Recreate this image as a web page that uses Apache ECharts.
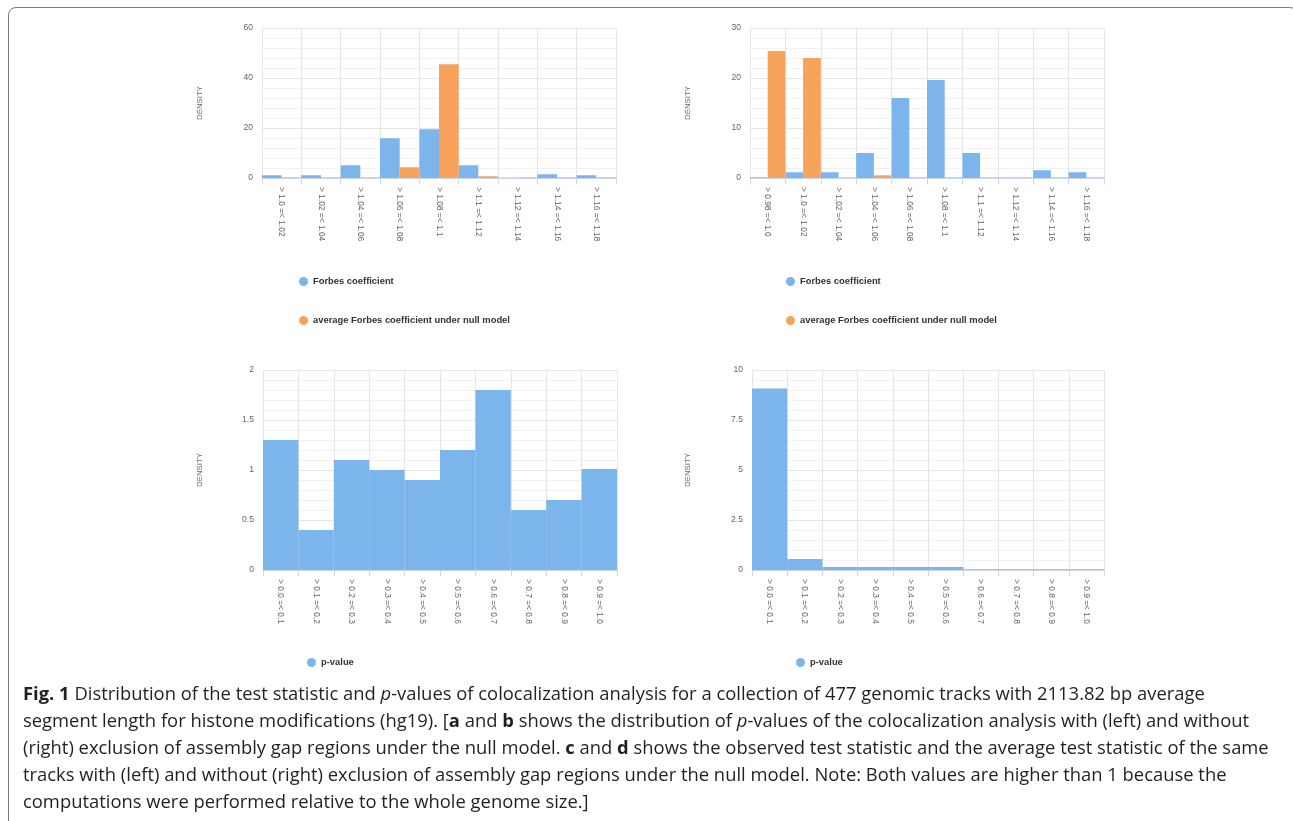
<!DOCTYPE html>
<html>
<head>
<meta charset="utf-8">
<script src="https://cdn.jsdelivr.net/npm/echarts@6/dist/echarts.min.js"></script>
<style>
  html, body { margin: 0; padding: 0; background: #fff; overflow: hidden; }
  #chart { position: absolute; left: 0; top: 0; width: 1293px; height: 821px; }
  #frame { position: absolute; left: 8px; top: 7px; width: 1290px; height: 840px;
           border: 1.5px solid #7a7a7a; border-radius: 8px; box-sizing: border-box; pointer-events: none; }
  #caption { position: absolute; left: 23px; top: 679px; font-family: "Open Sans", "Noto Sans", sans-serif;
             font-size: 18.5px; line-height: 27px; color: #231f20; transform-origin: 0 0; white-space: nowrap; }
  #caption div { display: block; }
  #caption span.l { display: inline-block; }
</style>
</head>
<body>
<div id="chart"></div>
<div id="frame"></div>
<div id="caption">
  <div><span class="l" id="line1"><b>Fig. 1</b> Distribution of the test statistic and <i>p</i>-values of colocalization analysis for a collection of 477 genomic tracks with 2113.82 bp average</span></div>
  <div><span class="l">segment length for histone modifications (hg19). [<b>a</b> and <b>b</b> shows the distribution of <i>p</i>-values of the colocalization analysis with (left) and without</span></div>
  <div><span class="l">(right) exclusion of assembly gap regions under the null model. <b>c</b> and <b>d</b> shows the observed test statistic and the average test statistic of the same</span></div>
  <div><span class="l">tracks with (left) and without (right) exclusion of assembly gap regions under the null model. Note: Both values are higher than 1 because the</span></div>
  <div><span class="l">computations were performed relative to the whole genome size.]</span></div>
</div>
<script>
// ---- data ----
const catsForbesA = ['> 1.0 =< 1.02', '> 1.02 =< 1.04', '> 1.04 =< 1.06', '> 1.06 =< 1.08', '> 1.08 =< 1.1',
                     '> 1.1 =< 1.12', '> 1.12 =< 1.14', '> 1.14 =< 1.16', '> 1.16 =< 1.18'];
const catsForbesB = ['> 0.98 =< 1.0', '> 1.0 =< 1.02', '> 1.02 =< 1.04', '> 1.04 =< 1.06', '> 1.06 =< 1.08',
                     '> 1.08 =< 1.1', '> 1.1 =< 1.12', '> 1.12 =< 1.14', '> 1.14 =< 1.16', '> 1.16 =< 1.18'];
const catsP = ['> 0.0 =< 0.1', '> 0.1 =< 0.2', '> 0.2 =< 0.3', '> 0.3 =< 0.4', '> 0.4 =< 0.5',
               '> 0.5 =< 0.6', '> 0.6 =< 0.7', '> 0.7 =< 0.8', '> 0.8 =< 0.9', '> 0.9 =< 1.0'];
const forbesA = [1.1, 1.1, 5.1, 15.9, 19.5, 5.1, 0.15, 1.5, 1.1];
const nullA   = [0.25, 0.25, 0.25, 4.3, 45.5, 0.7, 0.25, 0.25, 0.25];
const forbesB = [0.15, 1.15, 1.15, 5.0, 16.0, 19.6, 5.0, 0.1, 1.55, 1.15];
const nullB   = [25.4, 24.0, 0.12, 0.55, 0.12, 0.12, 0.12, 0.12, 0.12, 0.12];
const pvalA   = [1.3, 0.4, 1.1, 1.0, 0.9, 1.2, 1.8, 0.6, 0.7, 1.01];
const pvalB   = [9.08, 0.55, 0.15, 0.15, 0.15, 0.15, 0.04, 0.04, 0.04, 0.04];
const yMaxes  = [60, 30, 2, 10];
const yIntervals = [20, 10, 0.5, 2.5];
const nameForbes = 'Forbes coefficient';
const nameNull = 'average Forbes coefficient under null model';
const nameP = 'p-value';

const BLUE = '#7cb5ec', ORANGE = '#f7a35c';
const FONT = '"Liberation Sans", Arial, sans-serif';

const grids = [
  { left: 262, top: 28, width: 354, height: 150 },
  { left: 750, top: 28, width: 354, height: 150 },
  { left: 263, top: 370, width: 354, height: 200 },
  { left: 752, top: 370, width: 352, height: 200 }
];
const catList = [catsForbesA, catsForbesB, catsP, catsP];
const nameGaps = [58, 58, 59, 60];

function xAxis(i) {
  return {
    type: 'category', gridIndex: i, data: catList[i], boundaryGap: true,
    axisLine: { show: true, lineStyle: { color: '#ccd6eb', width: 1 } },
    axisTick: { show: true, length: 6, lineStyle: { color: '#ccd6eb' } },
    splitLine: { show: true, lineStyle: { color: '#e6e6e6', width: 1 } },
    axisLabel: { rotate: -90, fontSize: 8.4, color: '#666', fontFamily: FONT, margin: 9, interval: 0 }
  };
}
function yAxis(i) {
  return {
    type: 'value', gridIndex: i, min: 0, max: yMaxes[i], interval: yIntervals[i],
    name: 'DENSITY', nameLocation: 'middle', nameRotate: 90, nameGap: nameGaps[i],
    nameTextStyle: { fontSize: 7.8, color: '#666', fontFamily: FONT },
    axisLine: { show: false }, axisTick: { show: false },
    axisLabel: { fontSize: 8.6, color: '#666', fontFamily: FONT, margin: 9 },
    splitLine: { show: true, lineStyle: { color: '#e6e6e6', width: 1 } },
    minorTick: { show: false, splitNumber: 5 },
    minorSplitLine: { show: true, lineStyle: { color: '#f2f2f2', width: 1 } }
  };
}

const legendBase = {
  orient: 'vertical', icon: 'circle', itemWidth: 9, itemHeight: 9, itemGap: 30,
  textStyle: { fontSize: 9.4, fontWeight: 'bold', color: '#333', fontFamily: FONT },
  padding: 0
};

const option = {
  animation: false,
  backgroundColor: '#fff',
  grid: grids,
  xAxis: [0, 1, 2, 3].map(xAxis),
  yAxis: [0, 1, 2, 3].map(yAxis),
  legend: [
    Object.assign({}, legendBase, { left: 299, top: 277, data: [nameForbes, nameNull] }),
    Object.assign({}, legendBase, { left: 786, top: 277, data: [nameForbes, nameNull] }),
    Object.assign({}, legendBase, { left: 307, top: 658, data: [nameP] }),
    Object.assign({}, legendBase, { left: 796, top: 658, data: [nameP] })
  ],
  series: [
    { name: nameForbes, type: 'bar', xAxisIndex: 0, yAxisIndex: 0, data: forbesA, itemStyle: { color: BLUE }, barGap: '0%', barCategoryGap: '0%' },
    { name: nameNull, type: 'bar', xAxisIndex: 0, yAxisIndex: 0, data: nullA, itemStyle: { color: ORANGE }, barGap: '0%', barCategoryGap: '0%' },
    { name: nameForbes, type: 'bar', xAxisIndex: 1, yAxisIndex: 1, data: forbesB, itemStyle: { color: BLUE }, barGap: '0%', barCategoryGap: '0%' },
    { name: nameNull, type: 'bar', xAxisIndex: 1, yAxisIndex: 1, data: nullB, itemStyle: { color: ORANGE }, barGap: '0%', barCategoryGap: '0%' },
    { name: nameP, type: 'bar', xAxisIndex: 2, yAxisIndex: 2, data: pvalA, itemStyle: { color: BLUE }, barCategoryGap: '0%' },
    { name: nameP, type: 'bar', xAxisIndex: 3, yAxisIndex: 3, data: pvalB, itemStyle: { color: BLUE }, barCategoryGap: '0%' }
  ]
};

const chart = echarts.init(document.getElementById('chart'), null, { renderer: 'canvas' });
chart.setOption(option);

// fit caption width to reference (line 1 spans ~1182px); offsetWidth ignores transforms
function fitCaption() {
  const w = document.getElementById('line1').offsetWidth;
  const cap = document.getElementById('caption');
  if (w > 0) cap.style.transform = 'scaleX(' + (1182 / w) + ')';
}
fitCaption();
if (document.fonts && document.fonts.ready) document.fonts.ready.then(fitCaption);
</script>
</body>
</html>
